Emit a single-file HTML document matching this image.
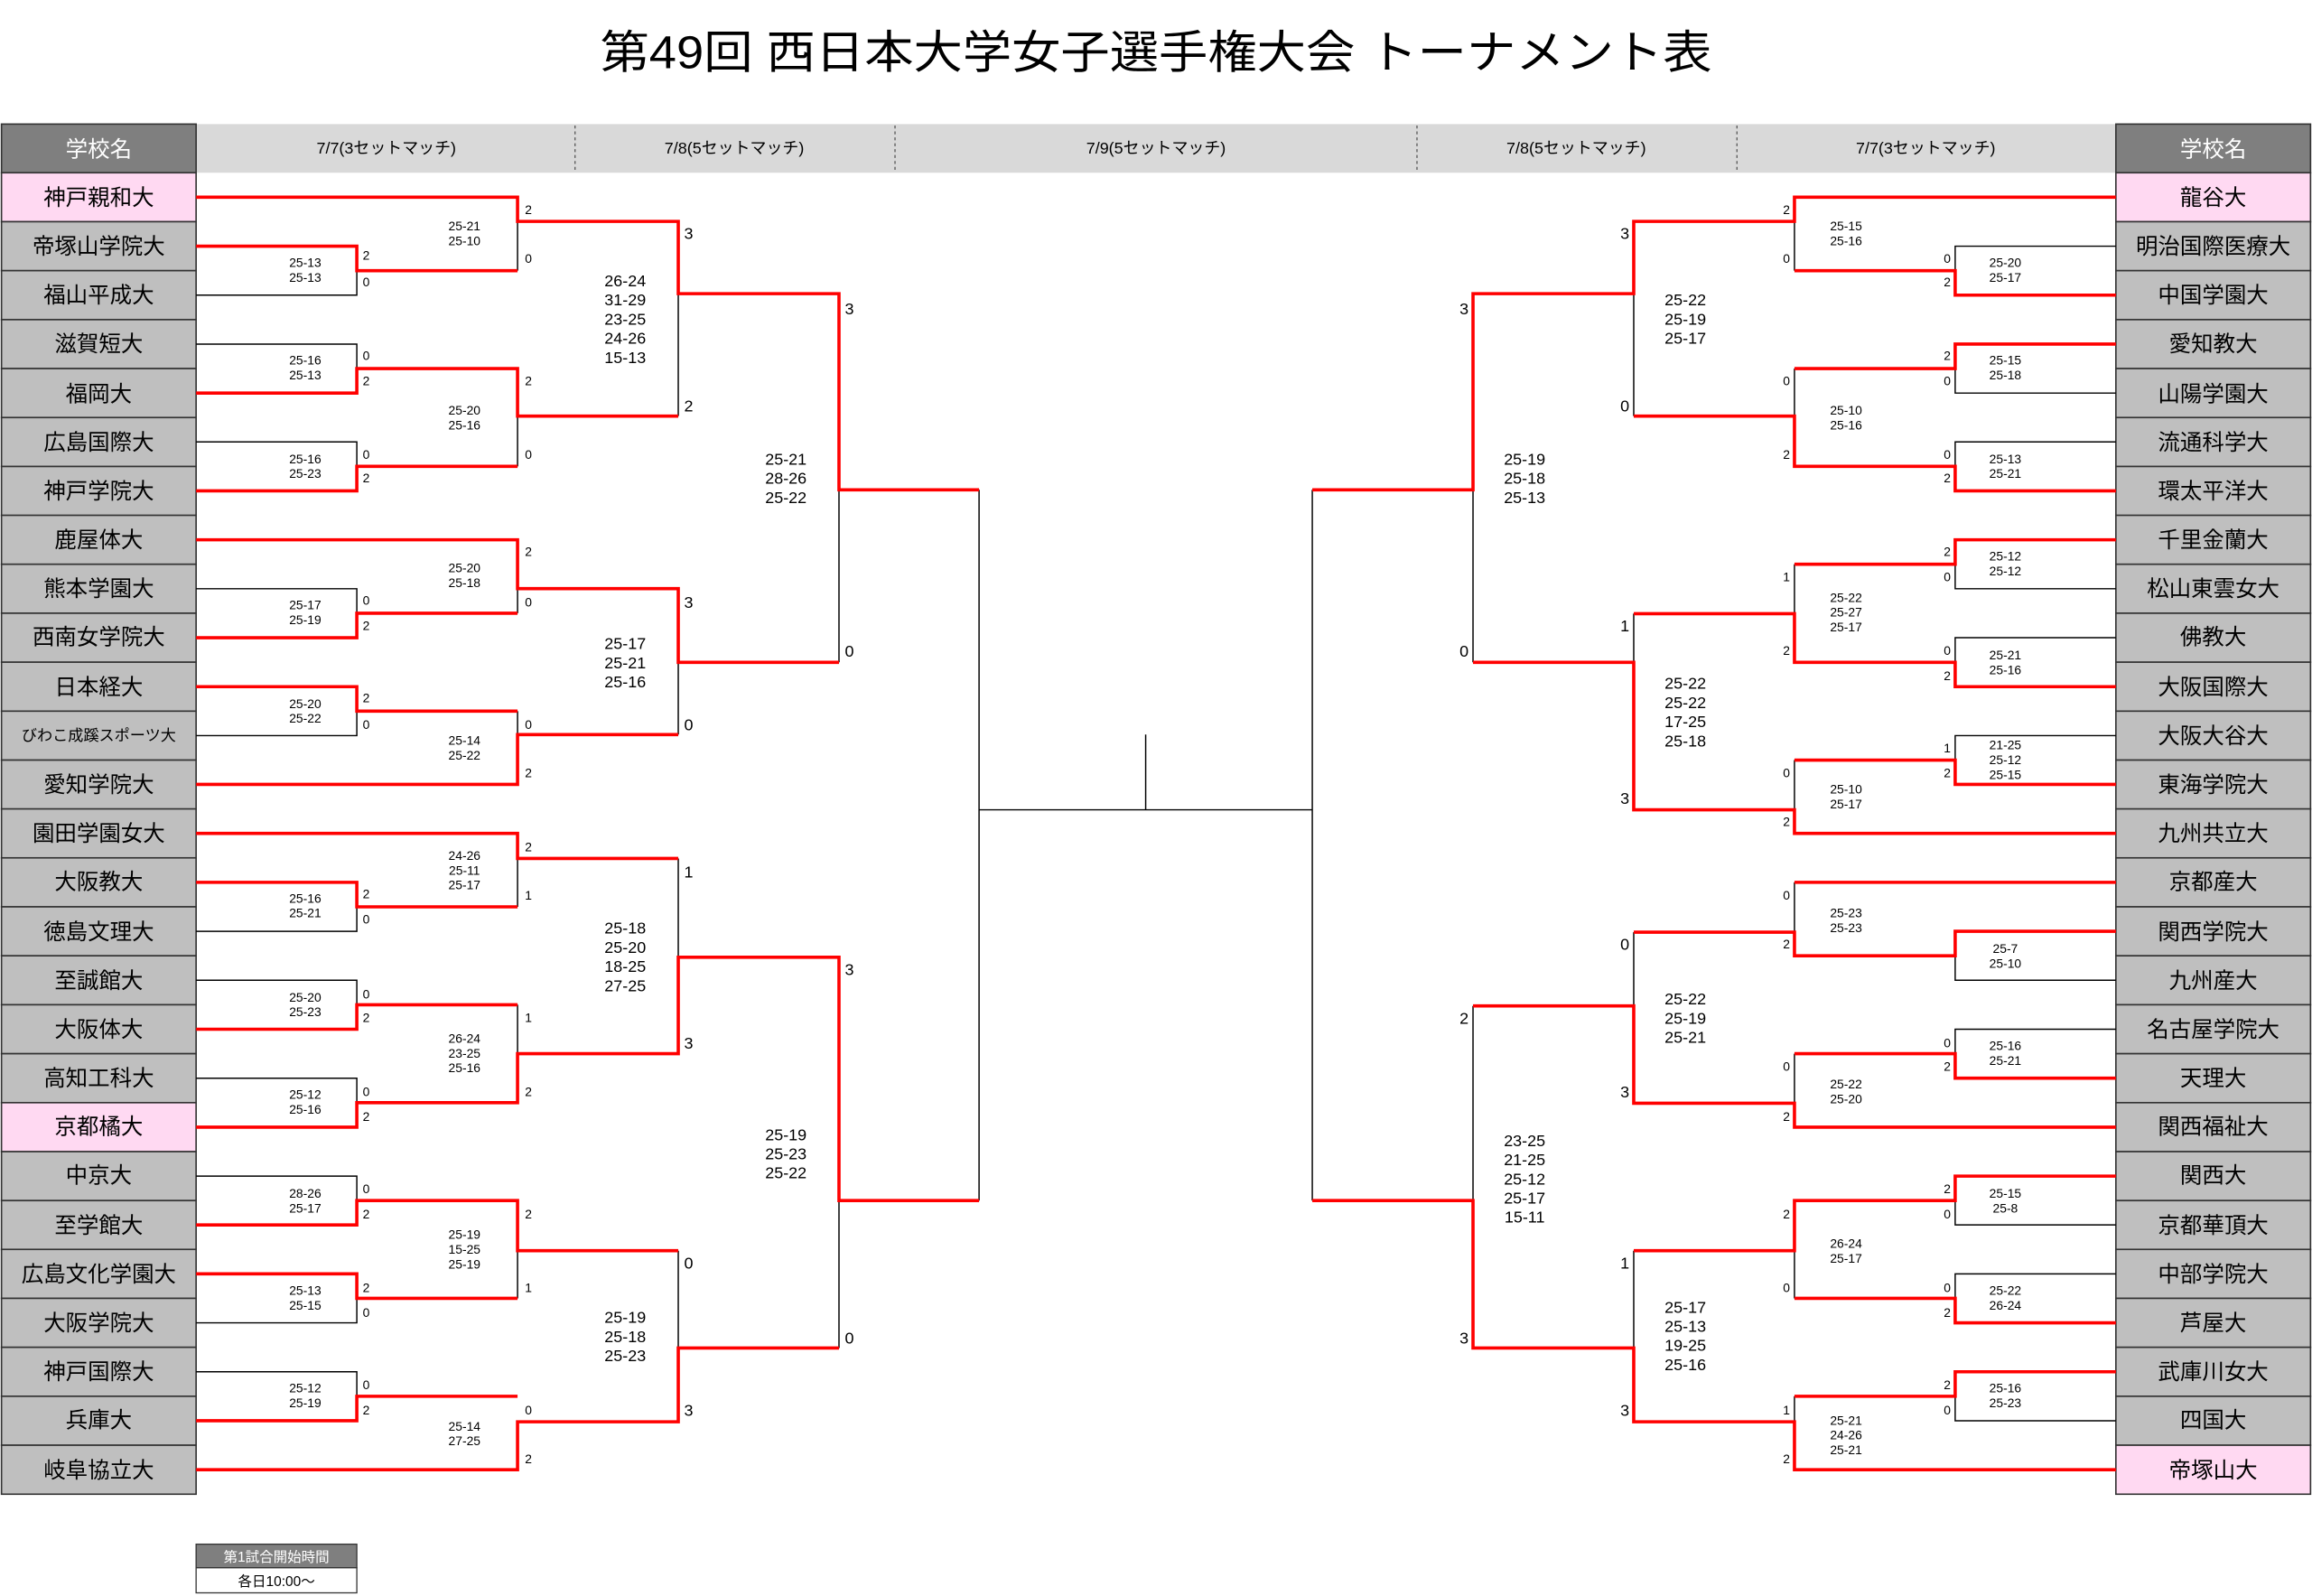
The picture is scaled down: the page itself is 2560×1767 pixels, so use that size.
<!DOCTYPE html>
<html><head><meta charset="utf-8">
<style>
html,body{margin:0;padding:0;background:#fff;}
svg{display:block;}
text{font-family:"Liberation Sans","Noto Sans CJK JP",sans-serif;}
</style></head>
<body>
<svg width="2560" height="1767" viewBox="0 0 1568 1082" xmlns="http://www.w3.org/2000/svg">
<rect width="1568" height="1082" fill="#fff"/>
<text x="784" y="46" text-anchor="middle" font-size="31" textLength="754" lengthAdjust="spacingAndGlyphs" fill="#000">第49回 西日本大学女子選手権大会 トーナメント表</text>

<!-- header -->
<rect x="133" y="84" width="1302" height="33" fill="#d9d9d9"/>
<g stroke="#555" stroke-width="0.8" stroke-dasharray="2,2">
<line x1="390" y1="85" x2="390" y2="116"/><line x1="607" y1="85" x2="607" y2="116"/>
<line x1="961" y1="85" x2="961" y2="116"/><line x1="1178" y1="85" x2="1178" y2="116"/>
</g>
<g font-size="11" text-anchor="middle" fill="#000">
<text x="262" y="104">7/7(3セットマッチ)</text>
<text x="498" y="104">7/8(5セットマッチ)</text>
<text x="784" y="104">7/9(5セットマッチ)</text>
<text x="1069" y="104">7/8(5セットマッチ)</text>
<text x="1306" y="104">7/7(3セットマッチ)</text>
</g>
<rect x="1" y="84" width="132" height="33" fill="#7f7f7f" stroke="#333" stroke-width="1"/>
<rect x="1435" y="84" width="132" height="33" fill="#7f7f7f" stroke="#333" stroke-width="1"/>
<text x="67" y="106" font-size="15" fill="#fff" text-anchor="middle">学校名</text>
<text x="1501" y="106" font-size="15" fill="#fff" text-anchor="middle">学校名</text>

<!-- name boxes left -->
<g stroke="#333" stroke-width="1" fill="#bfbfbf">
<rect x="1" y="117" width="132" height="33.2" fill="#ffd9f2"/>
<rect x="1" y="150.2" width="132" height="33.2"/><rect x="1" y="183.4" width="132" height="33.2"/>
<rect x="1" y="216.6" width="132" height="33.2"/><rect x="1" y="249.8" width="132" height="33.2"/>
<rect x="1" y="283" width="132" height="33.2"/><rect x="1" y="316.2" width="132" height="33.2"/>
<rect x="1" y="349.3" width="132" height="33.2"/><rect x="1" y="382.5" width="132" height="33.2"/>
<rect x="1" y="415.7" width="132" height="33.2"/><rect x="1" y="448.9" width="132" height="33.2"/>
<rect x="1" y="482.1" width="132" height="33.2"/><rect x="1" y="515.3" width="132" height="33.2"/>
<rect x="1" y="548.4" width="132" height="33.2"/><rect x="1" y="581.6" width="132" height="33.2"/>
<rect x="1" y="614.8" width="132" height="33.2"/><rect x="1" y="648" width="132" height="33.2"/>
<rect x="1" y="681.2" width="132" height="33.2"/><rect x="1" y="714.4" width="132" height="33.2"/>
<rect x="1" y="747.6" width="132" height="33.2" fill="#ffd9f2"/>
<rect x="1" y="780.8" width="132" height="33.2"/><rect x="1" y="814" width="132" height="33.2"/>
<rect x="1" y="847.1" width="132" height="33.2"/><rect x="1" y="880.3" width="132" height="33.2"/>
<rect x="1" y="913.5" width="132" height="33.2"/><rect x="1" y="946.7" width="132" height="33.2"/>
<rect x="1" y="979.9" width="132" height="33.2"/>
</g>
<!-- name boxes right -->
<g stroke="#333" stroke-width="1" fill="#bfbfbf">
<rect x="1435" y="117" width="132" height="33.2" fill="#ffd9f2"/>
<rect x="1435" y="150.2" width="132" height="33.2"/><rect x="1435" y="183.4" width="132" height="33.2"/>
<rect x="1435" y="216.6" width="132" height="33.2"/><rect x="1435" y="249.8" width="132" height="33.2"/>
<rect x="1435" y="283" width="132" height="33.2"/><rect x="1435" y="316.2" width="132" height="33.2"/>
<rect x="1435" y="349.3" width="132" height="33.2"/><rect x="1435" y="382.5" width="132" height="33.2"/>
<rect x="1435" y="415.7" width="132" height="33.2"/><rect x="1435" y="448.9" width="132" height="33.2"/>
<rect x="1435" y="482.1" width="132" height="33.2"/><rect x="1435" y="515.3" width="132" height="33.2"/>
<rect x="1435" y="548.4" width="132" height="33.2"/><rect x="1435" y="581.6" width="132" height="33.2"/>
<rect x="1435" y="614.8" width="132" height="33.2"/><rect x="1435" y="648" width="132" height="33.2"/>
<rect x="1435" y="681.2" width="132" height="33.2"/><rect x="1435" y="714.4" width="132" height="33.2"/>
<rect x="1435" y="747.6" width="132" height="33.2"/>
<rect x="1435" y="780.8" width="132" height="33.2"/><rect x="1435" y="814" width="132" height="33.2"/>
<rect x="1435" y="847.1" width="132" height="33.2"/><rect x="1435" y="880.3" width="132" height="33.2"/>
<rect x="1435" y="913.5" width="132" height="33.2"/><rect x="1435" y="946.7" width="132" height="33.2"/>
<rect x="1435" y="979.9" width="132" height="33.2" fill="#ffd9f2"/>
</g>

<g font-size="15" text-anchor="middle" fill="#000">
<text x="67" y="139">神戸親和大</text><text x="67" y="172">帝塚山学院大</text><text x="67" y="205">福山平成大</text>
<text x="67" y="238">滋賀短大</text><text x="67" y="272">福岡大</text><text x="67" y="305">広島国際大</text>
<text x="67" y="338">神戸学院大</text><text x="67" y="371">鹿屋体大</text><text x="67" y="404">熊本学園大</text>
<text x="67" y="437">西南女学院大</text><text x="67" y="471">日本経大</text>
<text x="67" y="502" font-size="10.5">びわこ成蹊スポーツ大</text>
<text x="67" y="537">愛知学院大</text><text x="67" y="570">園田学園女大</text><text x="67" y="603">大阪教大</text>
<text x="67" y="637">徳島文理大</text><text x="67" y="670">至誠館大</text><text x="67" y="703">大阪体大</text>
<text x="67" y="736">高知工科大</text><text x="67" y="769">京都橘大</text><text x="67" y="802">中京大</text>
<text x="67" y="836">至学館大</text><text x="67" y="869">広島文化学園大</text><text x="67" y="902">大阪学院大</text>
<text x="67" y="935">神戸国際大</text><text x="67" y="968">兵庫大</text><text x="67" y="1002">岐阜協立大</text>

<text x="1501" y="139">龍谷大</text><text x="1501" y="172">明治国際医療大</text><text x="1501" y="205">中国学園大</text>
<text x="1501" y="238">愛知教大</text><text x="1501" y="272">山陽学園大</text><text x="1501" y="305">流通科学大</text>
<text x="1501" y="338">環太平洋大</text><text x="1501" y="371">千里金蘭大</text><text x="1501" y="404">松山東雲女大</text>
<text x="1501" y="437">佛教大</text><text x="1501" y="471">大阪国際大</text><text x="1501" y="504">大阪大谷大</text>
<text x="1501" y="537">東海学院大</text><text x="1501" y="570">九州共立大</text><text x="1501" y="603">京都産大</text>
<text x="1501" y="637">関西学院大</text><text x="1501" y="670">九州産大</text><text x="1501" y="703">名古屋学院大</text>
<text x="1501" y="736">天理大</text><text x="1501" y="769">関西福祉大</text><text x="1501" y="802">関西大</text>
<text x="1501" y="836">京都華頂大</text><text x="1501" y="869">中部学院大</text><text x="1501" y="902">芦屋大</text>
<text x="1501" y="935">武庫川女大</text><text x="1501" y="968">四国大</text><text x="1501" y="1002">帝塚山大</text>
</g>

<!-- black lines -->
<g fill="none" stroke="#000" stroke-width="0.9">
<path d="M133 200H242V183.4M351 150V183.4M133 233.2H242V249.8M133 299.5H242V316.1M351 282V316.1M460 199V282"/>
<path d="M133 399.1H242V415.7M351 399V415.7M133 498.7H242V482.1M351 482.1V498M460 449V498M569 332V449"/>
<path d="M133 631.4H242V614.8M351 582V614.8M133 664.6H242V681.2M133 731H242V747.6M351 681.2V714.4M460 582V649"/>
<path d="M133 797.4H242V814M133 896.9H242V880.3M351 848V880.3M133 930.1H242V946.7M460 848V914M569 814V914"/>
<path d="M664 332V814M664 549H890M777 498V549M890 332V814"/>
<path d="M1435 166.8H1326V183.4M1217 150V183.4M1435 266.4H1326V249.8M1435 299.5H1326V316.1M1217 249.8V282M1108 199V282"/>
<path d="M1435 399.1H1326V382.5M1435 432.3H1326V449M1217 382.5V416M1435 498.7H1326V515.3M1217 515.3V549M1108 416V449M999 332V449"/>
<path d="M1435 664.6H1326V648M1217 598.2V632M1435 697.8H1326V714.4M1217 714.4V748M1108 632V682"/>
<path d="M1435 830.5H1326V814M1435 863.7H1326V880.3M1217 848V880.3M1435 963.3H1326V946.7M1217 946.7V964M1108 848V914M999 682V814"/>
</g>
<!-- red lines -->
<g fill="none" stroke="#ff0000" stroke-width="2.2">
<path d="M133 133.6H351V150H460V199H569V332H664"/>
<path d="M133 166.8H242V183.4H351"/>
<path d="M133 266.4H242V249.8H351V282H460"/>
<path d="M133 332.7H242V316.1H351"/>
<path d="M133 365.9H351V399H460V449H569"/>
<path d="M133 432.3H242V415.7H351"/>
<path d="M133 465.5H242V482.1H351"/>
<path d="M133 531.8H351V498H460"/>
<path d="M133 565H351V582H460"/>
<path d="M133 598.2H242V614.8H351"/>
<path d="M133 697.8H242V681.2H351"/>
<path d="M133 764.2H242V747.6H351V714.4H460V649H569V814H664"/>
<path d="M133 830.5H242V814H351V848H460"/>
<path d="M133 863.7H242V880.3H351"/>
<path d="M133 963.3H242V946.7H351"/>
<path d="M133 996.5H351V964H460V914H569"/>

<path d="M1435 133.6H1217V150H1108V199H999V332H890"/>
<path d="M1435 200H1326V183.4H1217"/>
<path d="M1435 233.2H1326V249.8H1217"/>
<path d="M1435 332.7H1326V316.1H1217V282H1108"/>
<path d="M1435 365.9H1326V382.5H1217"/>
<path d="M1435 465.5H1326V449H1217V416H1108"/>
<path d="M1435 531.8H1326V515.3H1217"/>
<path d="M1435 565H1217V549H1108V449H999"/>
<path d="M1435 598.2H1217"/>
<path d="M1435 631.4H1326V648H1217V632H1108"/>
<path d="M1435 731H1326V714.4H1217"/>
<path d="M1435 764.2H1217V748H1108V682H999"/>
<path d="M1435 797.4H1326V814H1217V848H1108"/>
<path d="M1435 896.9H1326V880.3H1217"/>
<path d="M1435 930.1H1326V946.7H1217"/>
<path d="M1435 996.5H1217V964H1108V914H999V814H890"/>
</g>

<!-- small scores R1/R2 -->
<g font-size="8.5" text-anchor="middle" fill="#000">
<text x="207" y="181">25-13</text><text x="207" y="191">25-13</text>
<text x="207" y="247">25-16</text><text x="207" y="257">25-13</text>
<text x="207" y="314">25-16</text><text x="207" y="324">25-23</text>
<text x="207" y="413">25-17</text><text x="207" y="423">25-19</text>
<text x="207" y="480">25-20</text><text x="207" y="490">25-22</text>
<text x="207" y="612">25-16</text><text x="207" y="622">25-21</text>
<text x="207" y="679">25-20</text><text x="207" y="689">25-23</text>
<text x="207" y="745">25-12</text><text x="207" y="755">25-16</text>
<text x="207" y="812">28-26</text><text x="207" y="822">25-17</text>
<text x="207" y="878">25-13</text><text x="207" y="888">25-15</text>
<text x="207" y="944">25-12</text><text x="207" y="954">25-19</text>

<text x="315" y="156">25-21</text><text x="315" y="166">25-10</text>
<text x="315" y="281">25-20</text><text x="315" y="291">25-16</text>
<text x="315" y="388">25-20</text><text x="315" y="398">25-18</text>
<text x="315" y="505">25-14</text><text x="315" y="515">25-22</text>
<text x="315" y="583">24-26</text><text x="315" y="593">25-11</text><text x="315" y="603">25-17</text>
<text x="315" y="707">26-24</text><text x="315" y="717">23-25</text><text x="315" y="727">25-16</text>
<text x="315" y="840">25-19</text><text x="315" y="850">15-25</text><text x="315" y="860">25-19</text>
<text x="315" y="970">25-14</text><text x="315" y="980">27-25</text>

<text x="1360" y="181">25-20</text><text x="1360" y="191">25-17</text>
<text x="1360" y="247">25-15</text><text x="1360" y="257">25-18</text>
<text x="1360" y="314">25-13</text><text x="1360" y="324">25-21</text>
<text x="1360" y="380">25-12</text><text x="1360" y="390">25-12</text>
<text x="1360" y="447">25-21</text><text x="1360" y="457">25-16</text>
<text x="1360" y="508">21-25</text><text x="1360" y="518">25-12</text><text x="1360" y="528">25-15</text>
<text x="1360" y="646">25-7</text><text x="1360" y="656">25-10</text>
<text x="1360" y="712">25-16</text><text x="1360" y="722">25-21</text>
<text x="1360" y="812">25-15</text><text x="1360" y="822">25-8</text>
<text x="1360" y="878">25-22</text><text x="1360" y="888">26-24</text>
<text x="1360" y="944">25-16</text><text x="1360" y="954">25-23</text>

<text x="1252" y="156">25-15</text><text x="1252" y="166">25-16</text>
<text x="1252" y="281">25-10</text><text x="1252" y="291">25-16</text>
<text x="1252" y="408">25-22</text><text x="1252" y="418">25-27</text><text x="1252" y="428">25-17</text>
<text x="1252" y="538">25-10</text><text x="1252" y="548">25-17</text>
<text x="1252" y="622">25-23</text><text x="1252" y="632">25-23</text>
<text x="1252" y="738">25-22</text><text x="1252" y="748">25-20</text>
<text x="1252" y="846">26-24</text><text x="1252" y="856">25-17</text>
<text x="1252" y="966">25-21</text><text x="1252" y="976">24-26</text><text x="1252" y="986">25-21</text>
</g>

<!-- large scores R3/R4 -->
<g font-size="11" text-anchor="middle" fill="#000">
<text x="424" y="194">26-24</text><text x="424" y="207">31-29</text><text x="424" y="220">23-25</text><text x="424" y="233">24-26</text><text x="424" y="246">15-13</text>
<text x="424" y="440">25-17</text><text x="424" y="453">25-21</text><text x="424" y="466">25-16</text>
<text x="424" y="633">25-18</text><text x="424" y="646">25-20</text><text x="424" y="659">18-25</text><text x="424" y="672">27-25</text>
<text x="424" y="897">25-19</text><text x="424" y="910">25-18</text><text x="424" y="923">25-23</text>
<text x="533" y="315">25-21</text><text x="533" y="328">28-26</text><text x="533" y="341">25-22</text>
<text x="533" y="773">25-19</text><text x="533" y="786">25-23</text><text x="533" y="799">25-22</text>

<text x="1143" y="207">25-22</text><text x="1143" y="220">25-19</text><text x="1143" y="233">25-17</text>
<text x="1143" y="467">25-22</text><text x="1143" y="480">25-22</text><text x="1143" y="493">17-25</text><text x="1143" y="506">25-18</text>
<text x="1143" y="681">25-22</text><text x="1143" y="694">25-19</text><text x="1143" y="707">25-21</text>
<text x="1143" y="890">25-17</text><text x="1143" y="903">25-13</text><text x="1143" y="916">19-25</text><text x="1143" y="929">25-16</text>
<text x="1034" y="315">25-19</text><text x="1034" y="328">25-18</text><text x="1034" y="341">25-13</text>
<text x="1034" y="777">23-25</text><text x="1034" y="790">21-25</text><text x="1034" y="803">25-12</text><text x="1034" y="816">25-17</text><text x="1034" y="829">15-11</text>
</g>

<!-- win counts small -->
<g font-size="8.5" fill="#000">
<text x="246" y="176">2</text><text x="246" y="194">0</text>
<text x="246" y="244">0</text><text x="246" y="261">2</text>
<text x="246" y="311">0</text><text x="246" y="327">2</text>
<text x="246" y="410">0</text><text x="246" y="427">2</text>
<text x="246" y="476">2</text><text x="246" y="494">0</text>
<text x="246" y="609">2</text><text x="246" y="626">0</text>
<text x="246" y="677">0</text><text x="246" y="693">2</text>
<text x="246" y="743">0</text><text x="246" y="760">2</text>
<text x="246" y="809">0</text><text x="246" y="826">2</text>
<text x="246" y="876">2</text><text x="246" y="893">0</text>
<text x="246" y="942">0</text><text x="246" y="959">2</text>
<text x="356" y="145">2</text><text x="356" y="178">0</text>
<text x="356" y="261">2</text><text x="356" y="311">0</text>
<text x="356" y="377">2</text><text x="356" y="411">0</text>
<text x="356" y="494">0</text><text x="356" y="527">2</text>
<text x="356" y="577">2</text><text x="356" y="610">1</text>
<text x="356" y="693">1</text><text x="356" y="743">2</text>
<text x="356" y="826">2</text><text x="356" y="876">1</text>
<text x="356" y="959">0</text><text x="356" y="992">2</text>
</g>
<g font-size="8.5" fill="#000" text-anchor="end">
<text x="1323" y="178">0</text><text x="1323" y="194">2</text>
<text x="1323" y="244">2</text><text x="1323" y="261">0</text>
<text x="1323" y="311">0</text><text x="1323" y="327">2</text>
<text x="1323" y="377">2</text><text x="1323" y="394">0</text>
<text x="1323" y="444">0</text><text x="1323" y="461">2</text>
<text x="1323" y="510">1</text><text x="1323" y="527">2</text>
<text x="1323" y="710">0</text><text x="1323" y="726">2</text>
<text x="1323" y="809">2</text><text x="1323" y="826">0</text>
<text x="1323" y="876">0</text><text x="1323" y="893">2</text>
<text x="1323" y="942">2</text><text x="1323" y="959">0</text>
<text x="1214" y="145">2</text><text x="1214" y="178">0</text>
<text x="1214" y="261">0</text><text x="1214" y="311">2</text>
<text x="1214" y="394">1</text><text x="1214" y="444">2</text>
<text x="1214" y="527">0</text><text x="1214" y="560">2</text>
<text x="1214" y="610">0</text><text x="1214" y="643">2</text>
<text x="1214" y="726">0</text><text x="1214" y="760">2</text>
<text x="1214" y="826">2</text><text x="1214" y="876">0</text>
<text x="1214" y="959">1</text><text x="1214" y="992">2</text>
</g>
<!-- win counts large -->
<g font-size="11" fill="#000">
<text x="464" y="162">3</text><text x="464" y="279">2</text>
<text x="464" y="412">3</text><text x="464" y="495">0</text>
<text x="464" y="595">1</text><text x="464" y="711">3</text>
<text x="464" y="860">0</text><text x="464" y="960">3</text>
<text x="573" y="213">3</text><text x="573" y="445">0</text>
<text x="573" y="661">3</text><text x="573" y="911">0</text>
</g>
<g font-size="11" fill="#000" text-anchor="end">
<text x="1105" y="162">3</text><text x="1105" y="279">0</text>
<text x="1105" y="428">1</text><text x="1105" y="545">3</text>
<text x="1105" y="644">0</text><text x="1105" y="744">3</text>
<text x="1105" y="860">1</text><text x="1105" y="960">3</text>
<text x="996" y="213">3</text><text x="996" y="445">0</text>
<text x="996" y="694">2</text><text x="996" y="911">3</text>
</g>

<!-- footer -->
<rect x="133" y="1047" width="109" height="16" fill="#7f7f7f" stroke="#333" stroke-width="0.8"/>
<rect x="133" y="1063" width="109" height="17" fill="#fff" stroke="#333" stroke-width="0.8"/>
<text x="187.5" y="1059" font-size="9.5" fill="#fff" text-anchor="middle">第1試合開始時間</text>
<text x="187.5" y="1075.5" font-size="9.5" fill="#000" text-anchor="middle">各日10:00～</text>
</svg>
</body></html>
